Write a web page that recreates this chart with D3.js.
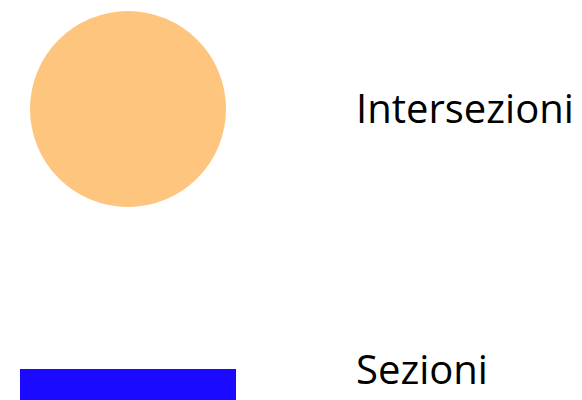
<!doctype html>
<meta charset="utf-8">
<html lang="en">
<head>
<style>
  body { margin: 0; background: #fff; }
  .label { font-family: "Open Sans", sans-serif; font-size: 40px; fill: #000; }
</style>
</head>
<body>
<script src="https://d3js.org/d3.v7.min.js"></script>
<script>
  var width = 582, height = 400;

  // legend entries
  var labels = ["Intersezioni", "Sezioni"];
  var shapes = ["circle", "rect"];
  var colors = ["#fec57f", "#1a0aff"];

  var svg = d3.select("body").append("svg")
    .attr("width", width)
    .attr("height", height);

  var y = d3.scalePoint()
    .domain(labels)
    .range([109, 370]);

  var items = svg.selectAll(".item")
    .data(labels)
    .enter().append("g")
    .attr("class", "item")
    .attr("transform", function(d) { return "translate(0," + y(d) + ")"; });

  items.each(function(d, i) {
    var g = d3.select(this);
    if (shapes[i] == "circle") {
      g.append("circle")
        .attr("cx", 128)
        .attr("cy", 0)
        .attr("r", 98)
        .style("fill", colors[i]);
    } else {
      g.append("rect")
        .attr("x", 20)
        .attr("y", -1)
        .attr("width", 216)
        .attr("height", 100)
        .style("fill", colors[i]);
    }
  });

  items.append("text")
    .attr("class", "label")
    .attr("x", 356)
    .attr("y", 0)
    .attr("dy", "0.35em")
    .text(function(d) { return d; });
</script>
</body>
</html>
